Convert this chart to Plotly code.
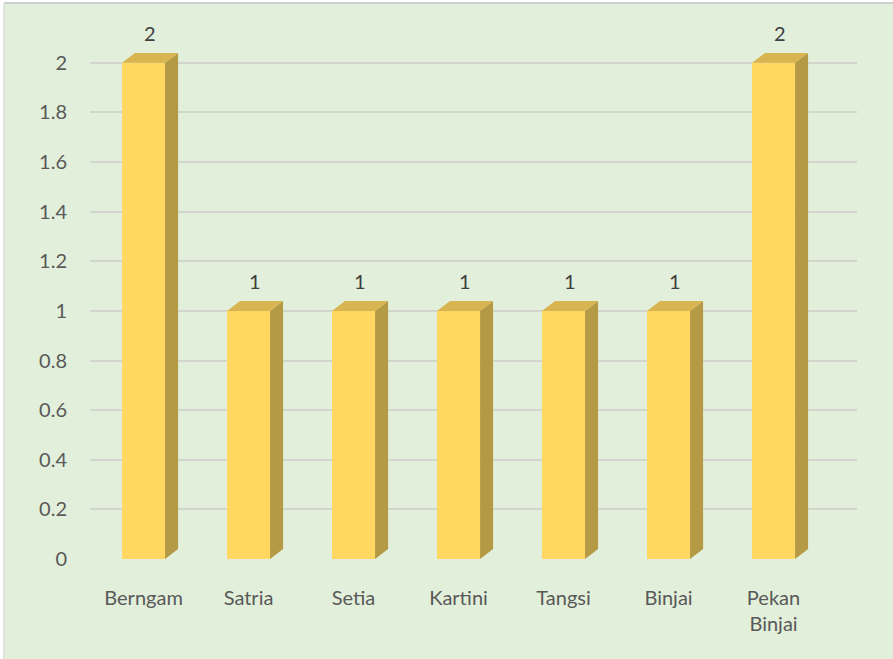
import plotly.graph_objects as go

categories = ["Berngam", "Satria", "Setia", "Kartini", "Tangsi", "Binjai", "Pekan<br>Binjai"]
values = [2, 1, 1, 1, 1, 1, 2]
y_ticks = [0, 0.2, 0.4, 0.6, 0.8, 1, 1.2, 1.4, 1.6, 1.8, 2]
y_tick_labels = ["0", "0.2", "0.4", "0.6", "0.8", "1", "1.2", "1.4", "1.6", "1.8", "2"]

BG = "#E2EFDA"
FRONT = "#FFD761"
SIDE = "#B59A45"
TOP = "#D8B550"
TEXT = "#595959"
FONT = "Lato, Open Sans, sans-serif"

W = 0.41      # bar width in category units
DX = 0.124    # depth offset x
DY = 0.04     # depth offset y

ML, MR, MT, MB = 90, 36, 38, 100
PW, PH = 893 - ML - MR, 659 - MT - MB

xs = list(range(len(categories)))
fig = go.Figure()

# front faces
fig.add_trace(go.Bar(x=xs, y=values, width=W, marker=dict(color=FRONT, line=dict(width=0)),
                     hoverinfo="skip", showlegend=False))

# side and top faces built from data
for i, v in zip(xs, values):
    r = i + W / 2
    l = i - W / 2
    fig.add_trace(go.Scatter(x=[r, r + DX, r + DX, r, r], y=[0, DY, v + DY, v, 0],
                             fill="toself", fillcolor=SIDE, mode="lines",
                             line=dict(width=0, color=SIDE), hoverinfo="skip", showlegend=False))
    fig.add_trace(go.Scatter(x=[l, l + DX, r + DX, r, l], y=[v, v + DY, v + DY, v, v],
                             fill="toself", fillcolor=TOP, mode="lines",
                             line=dict(width=0, color=TOP), hoverinfo="skip", showlegend=False))
    fig.add_annotation(x=i + DX / 2, y=v + DY, text=str(v), showarrow=False,
                       yanchor="bottom", yshift=6, font=dict(size=20, color="#404040", family=FONT))

# frame: white strip on top/left with a thin grey edge, like the source chart
x_left = -ML / PW
x_edge = -(ML - 4) / PW
x_right = 1 + MR / PW
y_bottom = -MB / PH
y_top = 1 + MT / PH
y_edge = 1 + (MT - 3) / PH

fig.update_layout(
    width=893, height=659,
    margin=dict(l=ML, r=MR, t=MT, b=MB, autoexpand=False),
    paper_bgcolor=BG, plot_bgcolor="rgba(0,0,0,0)",
    font=dict(family=FONT, size=20, color=TEXT),
    xaxis=dict(range=[-0.51, 6.795], tickvals=xs, ticktext=categories, showgrid=False,
               zeroline=False, showline=False, ticks="", ticklabelstandoff=25,
               tickfont=dict(size=20, color=TEXT), fixedrange=True),
    yaxis=dict(range=[0, 2.1], tickvals=y_ticks, ticktext=y_tick_labels,
               showgrid=True, gridcolor="#D2D6CD", gridwidth=2, zeroline=False,
               showline=False, ticks="", ticklabelstandoff=22,
               tickfont=dict(size=20, color=TEXT), fixedrange=True),
    shapes=[
        dict(type="rect", xref="paper", yref="paper", x0=x_left, x1=x_right, y0=y_edge, y1=y_top,
             line=dict(width=0), fillcolor="white", layer="below"),
        dict(type="rect", xref="paper", yref="paper", x0=x_left, x1=x_edge, y0=y_bottom, y1=y_top,
             line=dict(width=0), fillcolor="white", layer="below"),
        dict(type="line", xref="paper", yref="paper", x0=x_edge, x1=x_right, y0=y_edge, y1=y_edge,
             line=dict(color="#D0D0D0", width=2), layer="below"),
        dict(type="line", xref="paper", yref="paper", x0=x_edge, x1=x_edge, y0=y_bottom, y1=y_edge,
             line=dict(color="#DCDCDC", width=1.5), layer="below"),
    ],
)

fig.write_html("out.html", config={"displayModeBar": False},
               post_script="document.body.style.margin='0';")
